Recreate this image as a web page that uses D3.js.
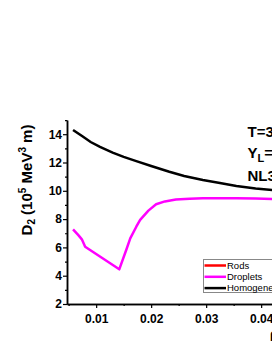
<!DOCTYPE html>
<html>
<head>
<meta charset="utf-8">
<script src="https://cdn.jsdelivr.net/npm/d3@7"></script>
<style>
  body { margin: 0; overflow: hidden; background: #fff; }
  text { font-family: Arial, "Liberation Sans", sans-serif; }
</style>
</head>
<body>
<div id="wrapper"></div>
<script>
// data
const homX = [0.0058, 0.0075, 0.0090, 0.0107, 0.0130, 0.0150, 0.0173, 0.0200, 0.0233, 0.0260, 0.0294, 0.0325, 0.0355, 0.0390, 0.0420, 0.0450];
const homY = [14.3, 13.85, 13.45, 13.1, 12.7, 12.4, 12.1, 11.75, 11.35, 11.05, 10.76, 10.55, 10.34, 10.17, 10.06, 9.95];

const dropX = [0.0058, 0.0068, 0.0074, 0.0080, 0.0142, 0.0155, 0.0162, 0.0173, 0.0180, 0.0195, 0.0209, 0.0225, 0.0245, 0.0270, 0.0294, 0.0325, 0.0355, 0.0390, 0.0420, 0.0450];
const dropY = [7.28, 6.85, 6.57, 6.05, 4.45, 5.85, 6.64, 7.46, 7.94, 8.6, 9.05, 9.25, 9.38, 9.44, 9.47, 9.48, 9.47, 9.45, 9.42, 9.38];

const xTicks = [0.01, 0.02, 0.03, 0.04, 0.05];
const yTicks = [2, 4, 6, 8, 10, 12, 14];
const legendNames = ["Rods", "Droplets", "Homogeneous"];
const legendColors = ["#ff0000", "#ff00ff", "#000000"];

const width = 272, height = 352;

const svg = d3.select("#wrapper").append("svg")
  .attr("width", width)
  .attr("height", height);

// x: 0.01 -> 96px, 0.02 -> 151px
const xScale = d3.scaleLinear()
  .domain([0.0047, 0.05])
  .range([67, 67 + (0.05 - 0.0047) * 5500]);

const yScale = d3.scaleLinear()
  .domain([2, 15])
  .range([304, 304 - 13 * 14.15]);

// axes
const xAxis = svg.append("g")
  .attr("transform", `translate(0, ${yScale(2)})`)
  .call(d3.axisBottom(xScale).tickValues(xTicks).tickFormat(d3.format(".2f")).tickSize(4).tickSizeOuter(0));
const xMinor = svg.append("g")
  .attr("transform", `translate(0, ${yScale(2)})`)
  .call(d3.axisBottom(xScale).tickValues([0.005, 0.015, 0.025, 0.035, 0.045]).tickFormat("").tickSize(2).tickSizeOuter(0));

const yAxis = svg.append("g")
  .attr("transform", `translate(${xScale.range()[0]}, 0)`)
  .call(d3.axisLeft(yScale).tickValues(yTicks).tickSize(4).tickSizeOuter(0));
const yMinor = svg.append("g")
  .attr("transform", `translate(${xScale.range()[0]}, 0)`)
  .call(d3.axisLeft(yScale).tickValues([3, 5, 7, 9, 11, 13, 15]).tickFormat("").tickSize(2).tickSizeOuter(0));

svg.selectAll(".domain").attr("stroke", "#000").attr("stroke-width", 1.5);
svg.selectAll(".tick line").attr("stroke", "#000").attr("stroke-width", 1.2);
svg.selectAll(".tick text")
  .style("font-family", "Arial, 'Liberation Sans', sans-serif")
  .style("font-size", "12px")
  .style("font-weight", "bold")
  .attr("fill", "#000");
xAxis.selectAll(".tick text").attr("dy", "1em");
yAxis.selectAll(".tick text").attr("x", -5);

// lines
const line = d3.line()
  .x(d => xScale(d[0]))
  .y(d => yScale(d[1]));

svg.append("path")
  .attr("d", line(d3.zip(homX, homY)))
  .attr("fill", "none")
  .attr("stroke", "#000")
  .attr("stroke-width", 2.5);

svg.append("path")
  .attr("d", line(d3.zip(dropX, dropY)))
  .attr("fill", "none")
  .attr("stroke", "#ff00ff")
  .attr("stroke-width", 2.5)
  .attr("stroke-linejoin", "round");

// y label
const yLabel = svg.append("text")
  .attr("transform", "translate(32, 180) rotate(-90)")
  .attr("text-anchor", "middle")
  .style("font-size", "15px")
  .style("font-weight", "bold");
yLabel.append("tspan").text("D");
yLabel.append("tspan").attr("dy", 3).style("font-size", "10px").text("2");
yLabel.append("tspan").attr("dy", -3).text(" (10");
yLabel.append("tspan").attr("dy", -6).style("font-size", "10px").text("5");
yLabel.append("tspan").attr("dy", 6).text(" MeV");
yLabel.append("tspan").attr("dy", -6).style("font-size", "10px").text("3");
yLabel.append("tspan").attr("dy", 6).text(" m)");

// x label (mostly out of frame)
svg.append("text")
  .attr("x", 270)
  .attr("y", 338)
  .style("font-size", "13px")
  .style("font-weight", "bold")
  .text("ρ (fm⁻³)");

// annotation
const note = svg.append("g").style("font-size", "15px").style("font-weight", "bold");
note.append("text").attr("x", 247.5).attr("y", 137.3).text("T=3 MeV");
const yl = note.append("text").attr("x", 247.5).attr("y", 157.5);
yl.append("tspan").text("Y");
yl.append("tspan").attr("dy", 4).style("font-size", "11px").text("L");
yl.append("tspan").attr("dy", -4).text("=0.4");
note.append("text").attr("x", 247.5).attr("y", 181.3).text("NL3");

// legend
const legend = svg.append("g");
legend.append("rect")
  .attr("x", 203.5).attr("y", 259.5)
  .attr("width", 100).attr("height", 33)
  .attr("fill", "#fff")
  .attr("stroke", "#888")
  .attr("stroke-width", 1);

const rows = legend.selectAll(".row")
  .data(legendNames)
  .join("g")
  .attr("transform", (d, i) => `translate(0, ${265.5 + i * 11.3})`);
rows.append("line")
  .attr("x1", 204.5).attr("x2", 226)
  .attr("stroke", (d, i) => legendColors[i])
  .attr("stroke-width", 2.5);
rows.append("text")
  .attr("x", 227)
  .attr("dy", "0.35em")
  .style("font-size", "9.5px")
  .text(d => d);
</script>
</body>
</html>
